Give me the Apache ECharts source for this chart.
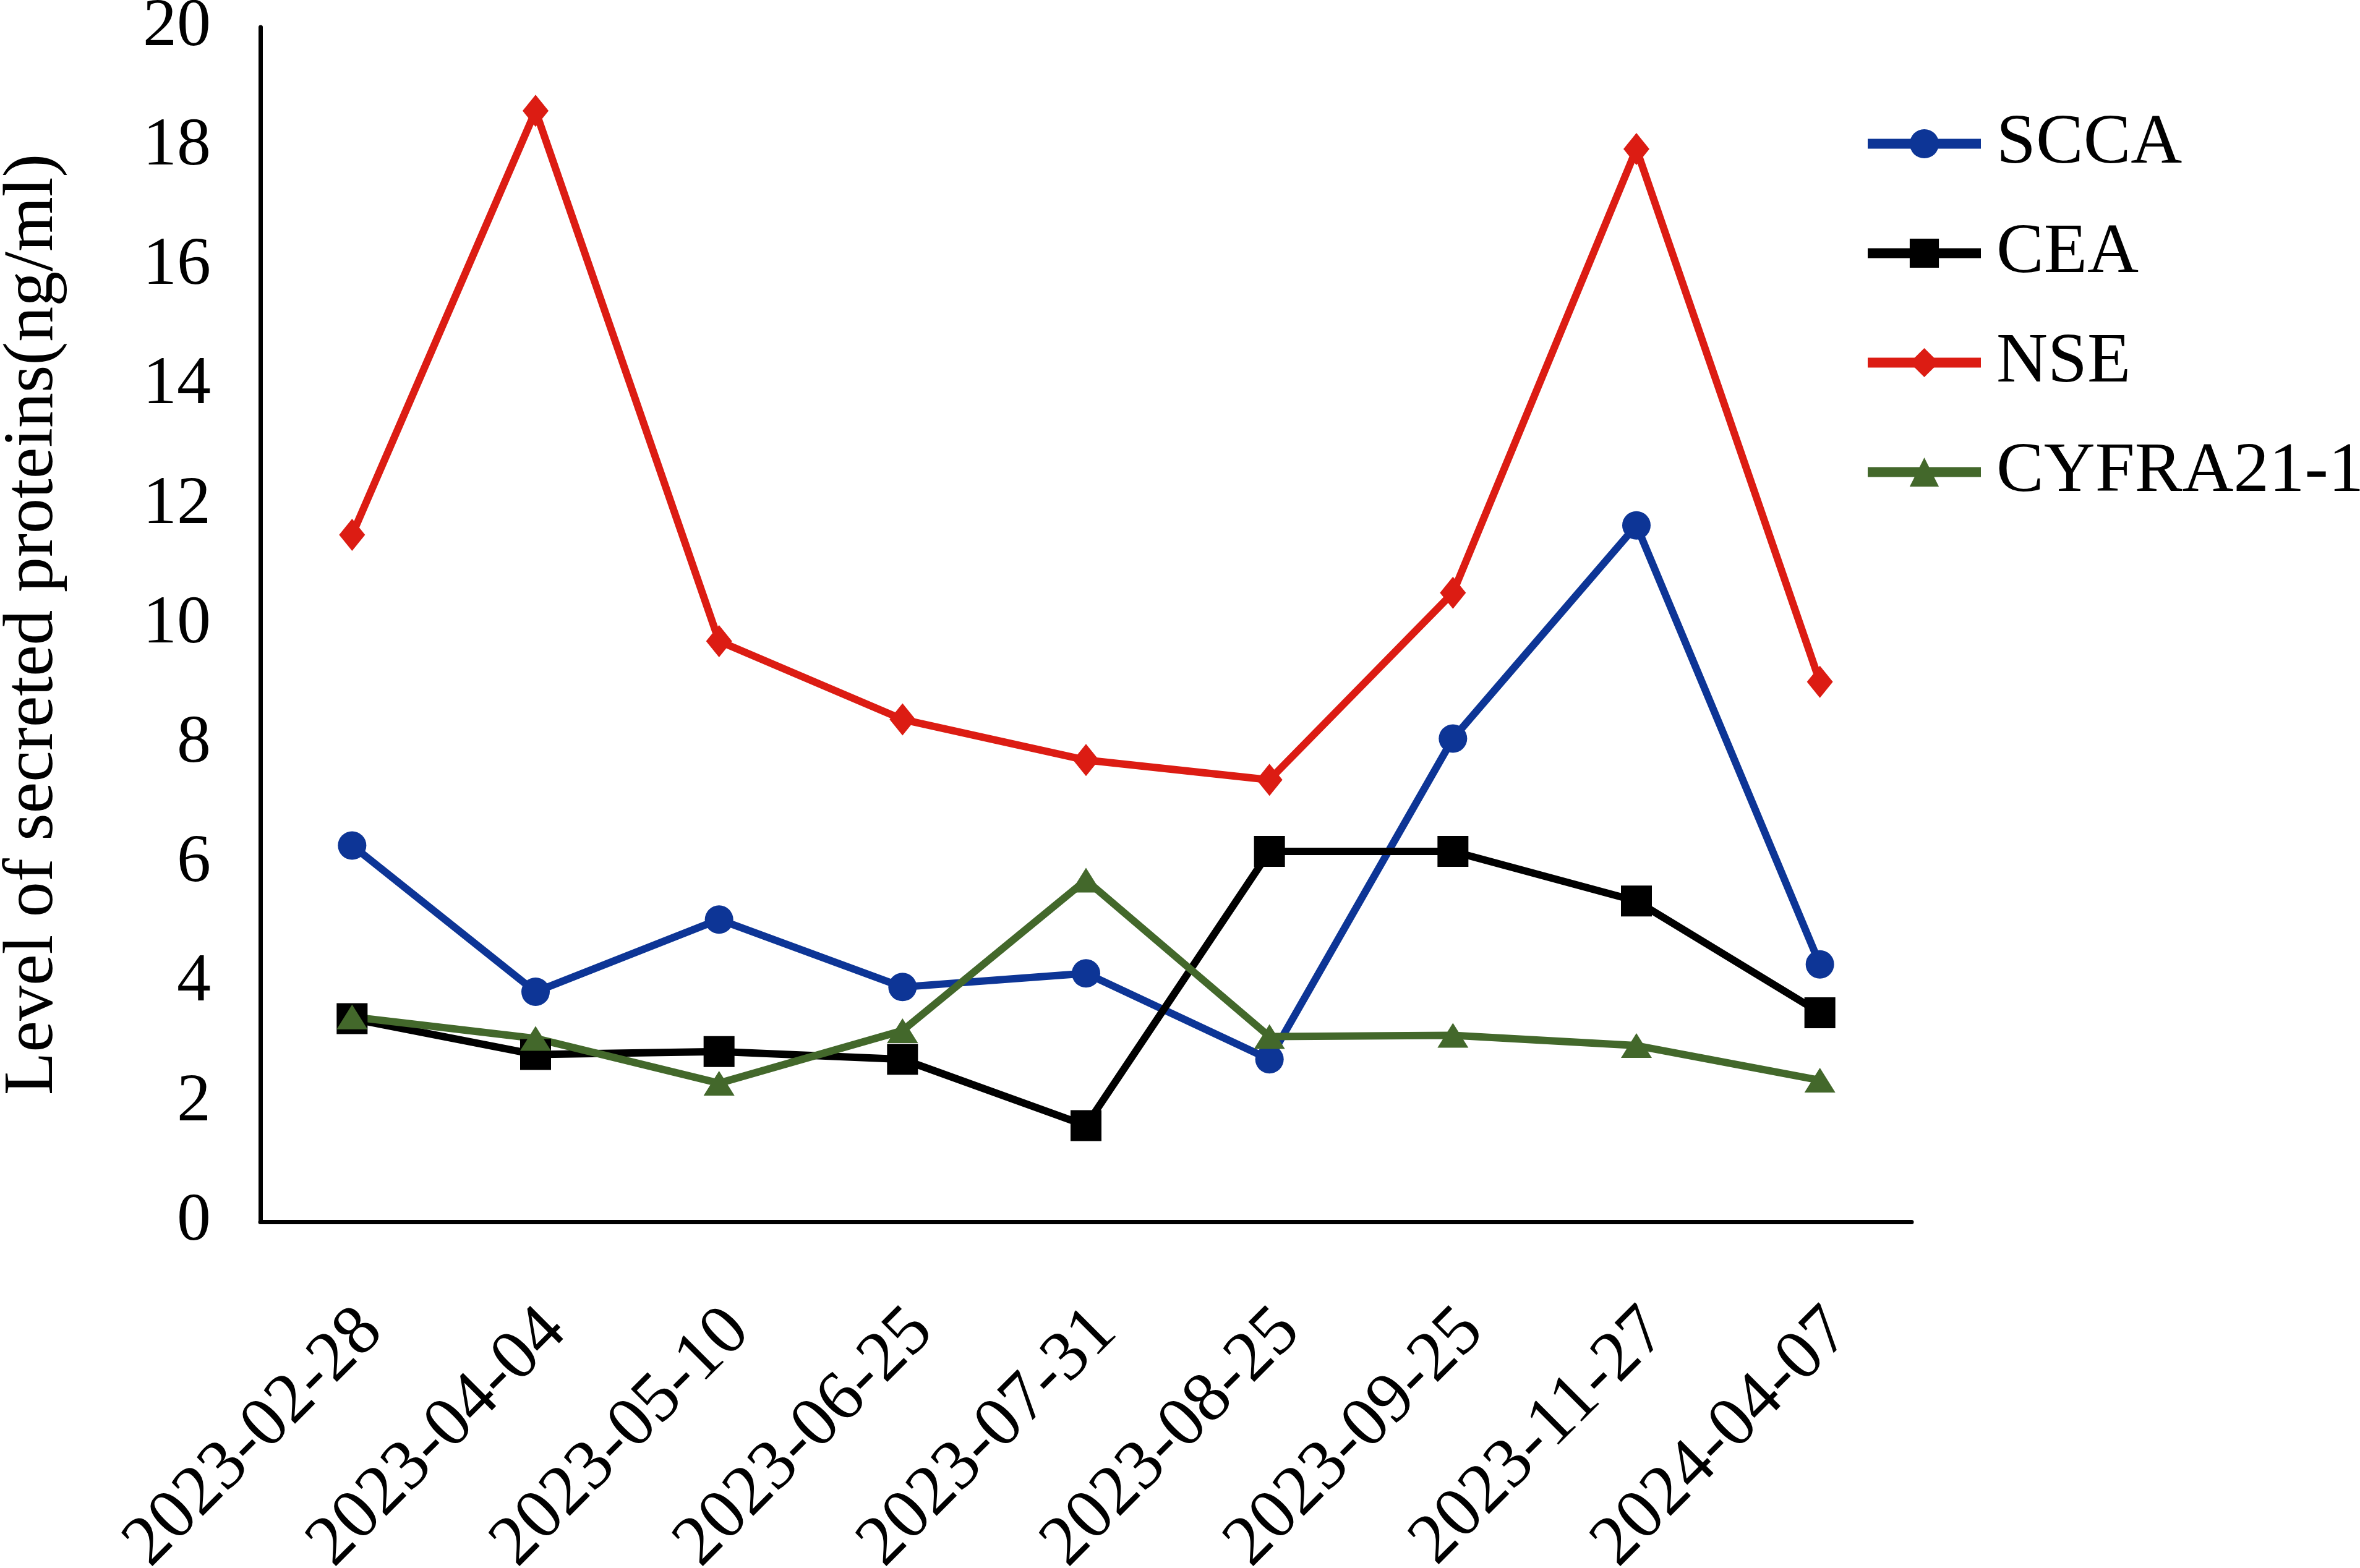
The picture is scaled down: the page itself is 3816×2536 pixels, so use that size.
<!DOCTYPE html>
<html>
<head>
<meta charset="utf-8">
<script src="https://cdn.jsdelivr.net/npm/echarts@6/dist/echarts.min.js"></script>
<style>
html,body{margin:0;padding:0;background:#fff;}
#c{width:3816px;height:2536px;}
</style>
</head>
<body>
<div id="c"></div>
<script>
const categories = ['2023-02-28','2023-04-04','2023-05-10','2023-06-25','2023-07-31','2023-08-25','2023-09-25','2023-11-27','2024-04-07'];
const scca  = [6.3, 3.85, 5.06, 3.93, 4.16, 2.72, 8.09, 11.66, 4.31];
const cea   = [3.4, 2.8, 2.85, 2.72, 1.61, 6.2, 6.2, 5.37, 3.5];
const nse   = [11.5, 18.6, 9.72, 8.41, 7.73, 7.4, 10.53, 17.96, 9.04];
const cyfra = [3.43, 3.07, 2.32, 3.2, 5.72, 3.1, 3.12, 2.95, 2.37];
const yTicks = [0,2,4,6,8,10,12,14,16,18,20];

const FONT = 'Liberation Serif';
const chart = echarts.init(document.getElementById('c'));

function mk(name, data, color, symbol, size) {
  return {
    name: name, type: 'line', data: data,
    symbol: symbol, symbolSize: size,
    lineStyle: {color: color, width: 12},
    itemStyle: {color: color},
    emphasis: {disabled: true},
    animation: false
  };
}

chart.setOption({
  backgroundColor: '#fff',
  animation: false,
  textStyle: {fontFamily: FONT, color: '#000'},
  grid: {left: 421, top: 44, width: 2670, height: 1932, containLabel: false, outerBoundsMode: 'none'},
  legend: {
    orient: 'vertical',
    left: 3007,
    top: 170,
    itemWidth: 183,
    itemHeight: 59,
    itemGap: 62,
    lineStyle: {width: 16},
    textStyle: {fontFamily: FONT, fontSize: 115, color: '#000', padding: [0,0,0,20]},
    data: ['SCCA','CEA','NSE','CYFRA21-1']
  },
  xAxis: {
    type: 'category',
    data: categories,
    boundaryGap: true,
    axisLine: {lineStyle: {color: '#000', width: 7}},
    axisTick: {show: false},
    axisLabel: {rotate: 45, margin: 128, verticalAlign: 'top', lineHeight: 90, fontFamily: FONT, fontSize: 115, color: '#000', interval: 0}
  },
  yAxis: {
    type: 'value',
    min: yTicks[0], max: yTicks[yTicks.length-1], interval: 2,
    name: 'Level of secreted proteins(ng/ml)',
    nameLocation: 'middle',
    nameGap: 310,
    nameRotate: 90,
    nameTextStyle: {fontFamily: FONT, fontSize: 114, color: '#000'},
    axisLine: {show: true, lineStyle: {color: '#000', width: 7}},
    axisTick: {show: false},
    splitLine: {show: false},
    axisLabel: {margin: 80, fontFamily: FONT, fontSize: 110, color: '#000'}
  },
  series: [
    mk('SCCA', scca, '#0d3596', 'circle', 46),
    mk('CEA', cea, '#000000', 'rect', 50),
    mk('NSE', nse, '#dc1c13', 'diamond', [42, 52]),
    mk('CYFRA21-1', cyfra, '#43682b', 'triangle', [50, 40])
  ]
});
</script>
</body>
</html>
